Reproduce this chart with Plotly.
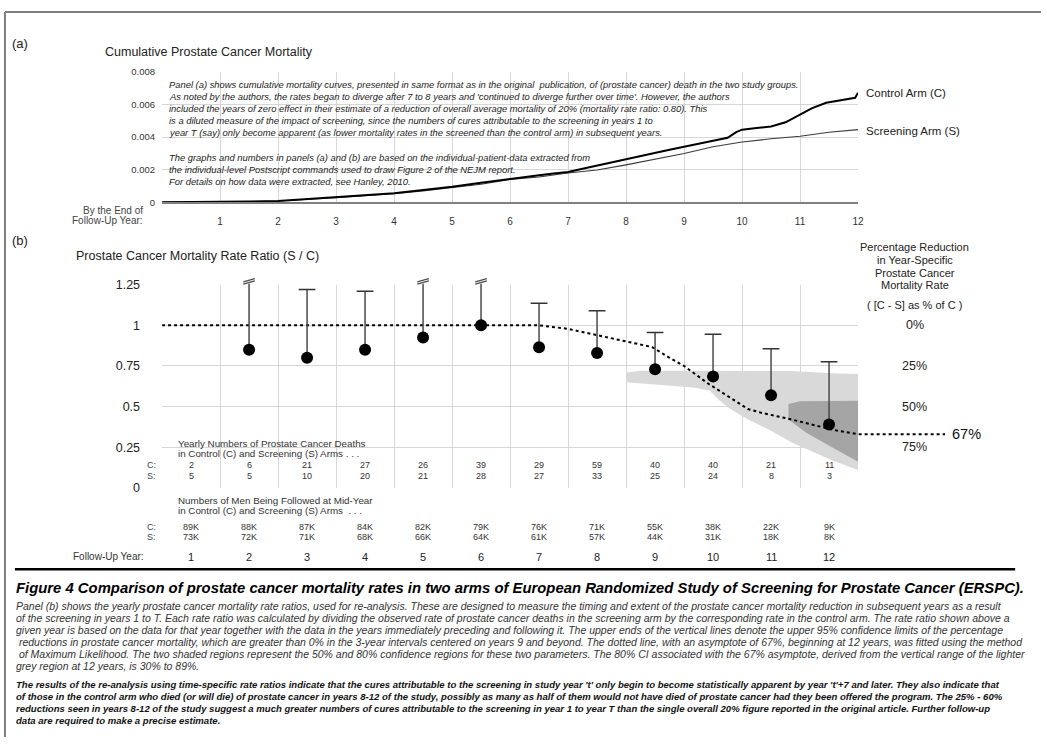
import plotly.graph_objects as go

W, H = 1047, 744
FONT = "Liberation Sans, Arial, sans-serif"

# ---------------- DATA ----------------
# Panel (a): cumulative prostate cancer mortality
cum_years_c = [0, 0.5, 1, 1.5, 2, 2.5, 3, 3.5, 4, 4.5, 5, 5.5, 6, 6.25, 6.5, 6.75, 7, 7.25, 7.5, 7.75,
               8, 8.25, 8.5, 8.75, 9, 9.25, 9.5, 9.75, 9.9, 10, 10.25, 10.5, 10.75, 10.95, 11.2, 11.45,
               11.75, 11.95, 12]
cum_c = [0, 0.000005, 0.00002, 0.00004, 0.00007, 0.00018, 0.0003, 0.00042, 0.00055, 0.00075, 0.00095,
         0.0012, 0.00145, 0.00155, 0.00166, 0.00176, 0.00186, 0.00205, 0.00225, 0.00245, 0.00265,
         0.00283, 0.00305, 0.00322, 0.0034, 0.00358, 0.00378, 0.00395, 0.0043, 0.00445, 0.00455,
         0.00465, 0.0049, 0.0053, 0.00576, 0.0061, 0.00626, 0.0064, 0.00672]
cum_years_s = [0, 0.5, 1, 1.5, 2, 2.5, 3, 3.5, 4, 4.5, 5, 5.5, 6, 6.5, 7, 7.5, 8, 8.5, 9, 9.5, 10,
               10.5, 11, 11.5, 12]
cum_s = [0, 0.000005, 0.00002, 0.00005, 0.00008, 0.00016, 0.00028, 0.0004, 0.00052, 0.0007, 0.0009,
         0.0011, 0.0014, 0.00155, 0.00179, 0.00198, 0.00229, 0.00265, 0.00299, 0.0034, 0.00369,
         0.00389, 0.00405, 0.00429, 0.00445]
cum_x_ticks = list(range(0, 13))
cum_y_ticks = [0, 0.002, 0.004, 0.006, 0.008]
cum_y_labels = ["0", "0.002", "0.004", "0.006", "0.008"]

# Panel (b): yearly rate ratios (S / C)
years = list(range(1, 13))
rate_ratio = [None, 0.85, 0.80, 0.85, 0.925, 1.00, 0.865, 0.83, 0.73, 0.685, 0.57, 0.39]
upper95 = [None, None, 1.22, 1.21, None, None, 1.135, 1.09, 0.955, 0.945, 0.855, 0.775]
upper_off_scale = [2, 5, 6]          # upper limits beyond the 1.25 axis
deaths_c = [2, 6, 21, 27, 26, 39, 29, 59, 40, 40, 21, 11]
deaths_s = [5, 5, 10, 20, 21, 28, 27, 33, 25, 24, 8, 3]
men_c = ["89K", "88K", "87K", "84K", "82K", "79K", "76K", "71K", "55K", "38K", "22K", "9K"]
men_s = ["73K", "72K", "71K", "68K", "66K", "64K", "61K", "57K", "44K", "31K", "18K", "8K"]

fit_years = [0, 6.5, 7.0, 7.5, 8.0, 8.45, 8.75, 9.0, 9.4, 9.75, 10.1, 10.35, 10.8, 11.25, 11.6, 12.0, 13.5]
fit_ratio = [1, 1, 0.978, 0.94, 0.90, 0.866, 0.80, 0.75, 0.645, 0.565, 0.485, 0.46, 0.425, 0.385, 0.355, 0.33, 0.33]

ci80_years = [8.0, 8.25, 9.0, 10.0, 10.85, 11.55, 12.0, 12.0, 11.55, 11.1, 10.85, 10.45, 10.1, 9.78, 9.6, 9.45, 9.2, 8.5, 8.0]
ci80_ratio = [0.71, 0.72, 0.72, 0.718, 0.718, 0.705, 0.70, 0.11, 0.17, 0.24, 0.28, 0.36, 0.42, 0.49, 0.54, 0.595, 0.615, 0.635, 0.65]
ci50_years = [10.8, 11.0, 12.0, 12.0, 11.55, 11.1, 10.8]
ci50_ratio = [0.515, 0.533, 0.535, 0.16, 0.25, 0.34, 0.42]

ratio_ticks = [0, 0.25, 0.5, 0.75, 1, 1.25]
ratio_labels = ["0", "0.25", "0.5", "0.75", "1", "1.25"]
pct_levels = [0, 25, 50, 75]
asymptote_pct = 67

# ---------------- LAYOUT HELPERS ----------------
def fx(px):
    return px / W

def fy(py):
    return 1 - py / H

PL, PR = 163, 863          # plot left / right (px)
A_T, A_B = 66, 199         # panel a top / bottom
B_T, B_B = 283, 490        # panel b top / bottom
OV_R, OV_T = 1000, 255     # overlay extent for panel b marks
B_SCALE = (B_B - B_T) / 1.25   # px per ratio unit

GRID = "#d6d6d6"
TXT = "#222222"

fig = go.Figure()

# Panel (a) curves
fig.add_trace(go.Scatter(x=cum_years_s, y=cum_s, mode="lines", line=dict(color="#3a3a3a", width=1.1),
                         xaxis="x", yaxis="y", hoverinfo="skip"))
fig.add_trace(go.Scatter(x=cum_years_c, y=cum_c, mode="lines", line=dict(color="black", width=2),
                         xaxis="x", yaxis="y", hoverinfo="skip"))

# Panel (b) confidence regions
fig.add_trace(go.Scatter(x=ci80_years, y=ci80_ratio, mode="lines", fill="toself", fillcolor="#d9d9d9",
                         line=dict(width=0), xaxis="x2", yaxis="y2", hoverinfo="skip"))
fig.add_trace(go.Scatter(x=ci50_years, y=ci50_ratio, mode="lines", fill="toself", fillcolor="#a5a5a5",
                         line=dict(width=0), xaxis="x2", yaxis="y2", hoverinfo="skip"))

# Fitted dotted line (overlay axes so it may extend past the plot)
fig.add_trace(go.Scatter(x=fit_years, y=fit_ratio, mode="lines",
                         line=dict(color="black", width=2, dash="3px,3px"),
                         xaxis="x3", yaxis="y3", hoverinfo="skip"))

# Whiskers
top_line = 1.255
wx, wy = [], []
cx, cy = [], []
bx, by = [], []
for yr, r, u in zip(years, rate_ratio, upper95):
    if r is None:
        continue
    xc = yr - 0.5
    if yr in upper_off_scale:
        wx += [xc, xc, None]
        wy += [r, top_line, None]
        for off in (0.0, 0.014):
            bx += [xc - 0.1, xc + 0.1, None]
            by += [top_line + off - 0.002, top_line + off + 0.018, None]
    else:
        wx += [xc, xc, None]
        wy += [r, u, None]
        cx.append(xc)
        cy.append(u)
fig.add_trace(go.Scatter(x=wx, y=wy, mode="lines", line=dict(color="#4a4a4a", width=1.5),
                         xaxis="x3", yaxis="y3", hoverinfo="skip"))
fig.add_trace(go.Scatter(x=bx, y=by, mode="lines", line=dict(color="#4a4a4a", width=1.2),
                         xaxis="x3", yaxis="y3", hoverinfo="skip"))
fig.add_trace(go.Scatter(x=cx, y=cy, mode="markers",
                         marker=dict(symbol="line-ew", size=12, line=dict(color="#333333", width=1.5)),
                         xaxis="x3", yaxis="y3", hoverinfo="skip"))
pts = [(yr - 0.5, r) for yr, r in zip(years, rate_ratio) if r is not None]
fig.add_trace(go.Scatter(x=[p[0] for p in pts], y=[p[1] for p in pts], mode="markers",
                         marker=dict(color="black", size=12), xaxis="x3", yaxis="y3", hoverinfo="skip"))

ann = []

def txt(x, y, s, size=10, anchor="left", color=TXT, italic=False, bold=False, xref="paper", yref="paper"):
    ann.append(dict(x=x, y=y, xref=xref, yref=yref, text=s, showarrow=False, xanchor=anchor, yanchor="middle",
                    font=dict(family=FONT, size=size, color=color,
                              style="italic" if italic else "normal",
                              weight="bold" if bold else "normal")))

# Panel labels and titles
txt(fx(10), fy(37), "(a)", 13)
txt(fx(104), fy(46), "Cumulative Prostate Cancer Mortality", 12.5)
txt(fx(10), fy(238), "(b)", 13)
txt(fx(74), fy(254), "Prostate Cancer Mortality Rate Ratio (S / C)", 12.5)

# Panel (a) legend labels
txt(fx(869), fy(88), "Control Arm (C)", 11.5)
txt(fx(869), fy(126), "Screening Arm (S)", 11.5)
txt(fx(146), fy(207), "By the End of", 10, "right", "#444")
txt(fx(146), fy(217.5), "Follow-Up Year:", 10, "right", "#444")

# Panel (a) text block
a_lines = [
    "Panel (a) shows cumulative mortality curves, presented in same format as in the original  publication, of (prostate cancer) death in the two study groups.",
    "As noted by the authors, the rates began to diverge after 7 to 8 years and 'continued to diverge further over time'. However, the authors",
    "included the years of zero effect in their estimate of a reduction of overall average mortality of 20% (mortality rate ratio: 0.80). This",
    "is a diluted measure of the impact of screening, since the numbers of cures attributable to the screening in years 1 to",
    "year T (say) only become apparent (as lower mortality rates in the screened than the control arm) in subsequent years.",
    "",
    "The graphs and numbers in panels (a) and (b) are based on the individual-patient-data extracted from",
    "the individual-level Postscript commands used to draw Figure 2 of the NEJM report.",
    "For details on how data were extracted, see Hanley, 2010.",
]
for i, s in enumerate(a_lines):
    if s:
        txt(fx(168), fy(79 + i * 12.35), s, 9.4, italic=True)

# Panel (b) right-hand labels
right_lines = ["Percentage Reduction", "in Year-Specific", "Prostate Cancer", "Mortality Rate"]
for i, s in enumerate(right_lines):
    txt(fx(920), fy(245 + i * 12.8), s, 11, "center")
txt(fx(920), fy(303.5), "( [C - S] as % of C )", 11, "center")
for p in pct_levels:
    txt(fx(920), 1 - p / 100, f"{p}%", 12.5, "center", yref="y2")
txt(fx(972), 1 - asymptote_pct / 100, f"{asymptote_pct}%", 14.5, "center", "#111", yref="y2")

# Table: deaths
txt(fx(177), fy(444.5), "Yearly Numbers of Prostate Cancer Deaths", 9.8, color="#333")
txt(fx(177), fy(455.5), "in Control (C) and Screening (S) Arms . . .", 9.8, color="#333")
txt(fx(152), fy(466.5), "C:", 9, "center", "#444")
txt(fx(152), fy(478.5), "S:", 9, "center", "#444")
for yr, c, s in zip(years, deaths_c, deaths_s):
    txt(yr - 0.5, fy(466.5), str(c), 9, "center", "#333", xref="x2")
    txt(yr - 0.5, fy(478.5), str(s), 9, "center", "#333", xref="x2")

# Table: men followed
txt(fx(177), fy(502.5), "Numbers of Men Being Followed at Mid-Year", 9.8, color="#333")
txt(fx(177), fy(513.5), "in Control (C) and Screening (S) Arms  . . .", 9.8, color="#333")
txt(fx(152), fy(529.5), "C:", 9, "center", "#444")
txt(fx(152), fy(540.5), "S:", 9, "center", "#444")
for yr, c, s in zip(years, men_c, men_s):
    txt(yr - 0.5, fy(529.5), c, 9, "center", "#333", xref="x2")
    txt(yr - 0.5, fy(540.5), s, 9, "center", "#333", xref="x2")

txt(fx(147), fy(560.5), "Follow-Up Year:", 10, "right", "#333")
for yr in years:
    txt(yr - 0.5, fy(560.5), str(yr), 11, "center", "#222", xref="x2")

# Caption
txt(fx(14), fy(592), "Figure 4 Comparison of prostate cancer mortality rates in two arms of European Randomized Study of Screening for Prostate Cancer (ERSPC).",
    14.85, color="black", italic=True, bold=True)
cap_lines = [
    "Panel (b) shows the yearly prostate cancer mortality rate ratios, used for re-analysis. These are designed to measure the timing and extent of the prostate cancer mortality reduction in subsequent years as a result",
    "of the screening in years 1 to T. Each rate ratio was calculated by dividing the observed rate of prostate cancer deaths in the screening arm by the corresponding rate in the control arm. The rate ratio shown above a",
    "given year is based on the data for that year together with the data in the years immediately preceding and following it. The upper ends of the vertical lines denote the upper 95% confidence limits of the percentage",
    " reductions in prostate cancer mortality, which are greater than 0% in the 3-year intervals centered on years 9 and beyond. The dotted line, with an asymptote of 67%, beginning at 12 years, was fitted using the method",
    " of Maximum Likelihood. The two shaded regions represent the 50% and 80% confidence regions for these two parameters. The 80% CI associated with the 67% asymptote, derived from the vertical range of the lighter",
    "grey region at 12 years, is 30% to 89%.",
]
for i, s in enumerate(cap_lines):
    txt(fx(14), fy(610 + i * 12.35), s, 10.5, color="#333", italic=True)
bold_lines = [
    "The results of the re-analysis using time-specific rate ratios indicate that the cures attributable to the screening in study year 't' only begin to become statistically apparent by year 't'+7 and later. They also indicate that",
    "of those in the control arm who died (or will die) of prostate cancer in years 8-12 of the study, possibly as many as half of them would not have died of prostate cancer had they been offered the program. The 25% - 60%",
    "reductions seen in years 8-12 of the study suggest a much greater numbers of cures attributable to the screening in year 1 to year T than the single overall 20% figure reported in the original article. Further follow-up",
    "data are required to make a precise estimate.",
]
for i, s in enumerate(bold_lines):
    txt(fx(14), fy(690 + i * 12.45), s, 9.55, color="#111", italic=True, bold=True)

shapes = [
    dict(type="line", xref="paper", yref="paper", x0=fx(5), x1=1, y0=fy(5), y1=fy(5),
         line=dict(color="#7f7f7f", width=2)),
    dict(type="line", xref="paper", yref="paper", x0=fx(5), x1=fx(5), y0=fy(5), y1=0,
         line=dict(color="#7f7f7f", width=2)),
    dict(type="line", xref="paper", yref="paper", x0=fx(15), x1=fx(1021), y0=fy(573), y1=fy(573),
         line=dict(color="black", width=2.5)),
]

fig.update_layout(
    width=W, height=H, margin=dict(l=0, r=0, t=0, b=0),
    paper_bgcolor="white", plot_bgcolor="rgba(0,0,0,0)",
    showlegend=False, font=dict(family=FONT, color=TXT),
    annotations=ann, shapes=shapes,
    xaxis=dict(domain=[fx(PL), fx(PR)], range=[0, 12], anchor="y", tickvals=cum_x_ticks,
               ticktext=[""] + [str(v) for v in cum_x_ticks[1:]], showgrid=True, gridcolor=GRID, gridwidth=1,
               zeroline=False, showline=True, linecolor="#808080", linewidth=1.5, ticks="",
               tickfont=dict(size=10, color="#333"), ticklabelstandoff=9, fixedrange=True),
    yaxis=dict(domain=[fy(A_B), fy(A_T)], range=[0, 0.008], anchor="x", tickvals=cum_y_ticks,
               ticktext=cum_y_labels, showgrid=True, gridcolor=GRID, zeroline=False, ticks="",
               tickfont=dict(size=9.5, color="#333"), ticklabelstandoff=6, fixedrange=True),
    xaxis2=dict(domain=[fx(PL), fx(PR)], range=[0, 12], anchor="y2", tickvals=list(range(0, 13)),
                showticklabels=False, showgrid=True, gridcolor=GRID, zeroline=False, ticks="", fixedrange=True),
    yaxis2=dict(domain=[fy(B_B), fy(B_T)], range=[0, 1.25], anchor="x2", tickvals=ratio_ticks,
                ticktext=ratio_labels, showgrid=True, gridcolor=GRID, zeroline=False, ticks="",
                tickfont=dict(size=12.5, color="#222"), ticklabelstandoff=21, fixedrange=True),
    xaxis3=dict(domain=[fx(PL), fx(OV_R)], range=[0, 12 * (OV_R - PL) / (PR - PL)], anchor="y3",
                visible=False, fixedrange=True),
    yaxis3=dict(domain=[fy(B_B), fy(OV_T)], range=[0, (B_B - OV_T) / B_SCALE], anchor="x3",
                visible=False, fixedrange=True),
)

fig.write_html("out.html", config={"displayModeBar": False},
               post_script="document.body.style.margin='0';document.body.style.overflow='hidden';")
